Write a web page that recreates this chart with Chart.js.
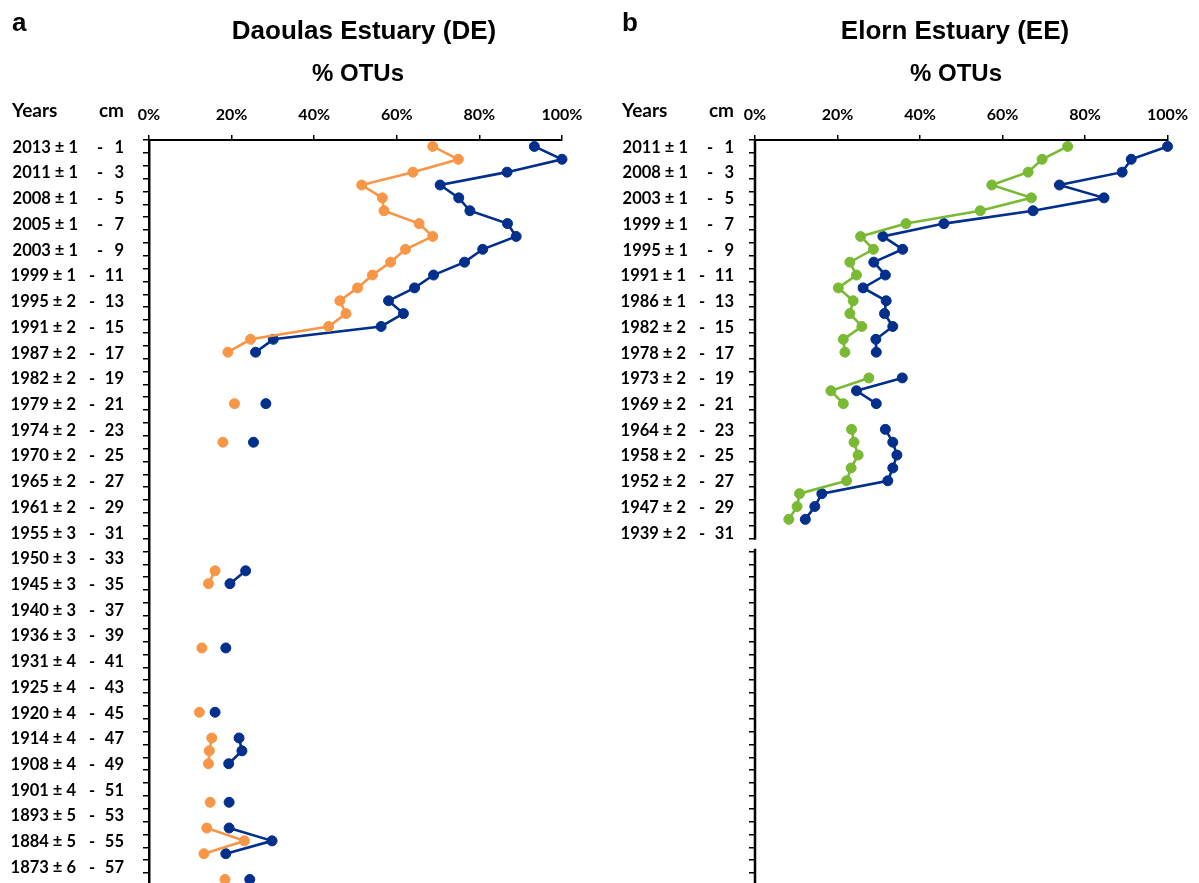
<!DOCTYPE html>
<html><head><meta charset="utf-8">
<script src="https://cdn.jsdelivr.net/npm/chart.js@4.4.1/dist/chart.umd.min.js"></script>
<style>
html,body{margin:0;padding:0;background:#fff;overflow:hidden;width:1199px;height:883px;}
#c1{position:absolute;left:0;top:0;}
#c2{position:absolute;left:600px;top:0;}
svg{position:absolute;left:0;top:0;}
.t{font-family:'Liberation Sans',Arial,sans-serif;font-weight:bold;fill:#000;}
.h{font-family:Lato,sans-serif;font-weight:bold;fill:#000;}
</style></head><body>
<canvas id="c1" width="600" height="892"></canvas>
<canvas id="c2" width="599" height="892"></canvas>
<svg width="1199" height="883">
  <text class="t" x="12" y="31" font-size="26">a</text>
  <text class="t" x="364" y="39" font-size="26" text-anchor="middle">Daoulas Estuary (DE)</text>
  <text class="t" x="358" y="81" font-size="24" text-anchor="middle">% OTUs</text>
  <text class="h" x="12" y="117" font-size="19">Years</text>
  <text class="h" x="124" y="117" font-size="19" text-anchor="end">cm</text>
  <text class="t" x="622" y="31" font-size="26">b</text>
  <text class="t" x="955" y="39" font-size="26" text-anchor="middle">Elorn Estuary (EE)</text>
  <text class="t" x="956" y="81" font-size="24" text-anchor="middle">% OTUs</text>
  <text class="h" x="622" y="117" font-size="19">Years</text>
  <text class="h" x="734" y="117" font-size="19" text-anchor="end">cm</text>
</svg>
<script>
// Depth categories (cm)
const depthsCm = [1,2,3,4,5,6,7,8,9,10,11,12,13,14,15,16,17,18,19,20,21,22,23,24,25,26,27,28,29,30,
  31,32,33,34,35,36,37,38,39,40,41,42,43,44,45,46,47,48,49,50,51,52,53,54,55,56,57,58];

// Daoulas Estuary (DE) – % OTUs per depth
const deOrange = [68.7,74.9,63.9,51.5,56.5,56.9,65.4,68.7,62.1,58.5,54.1,50.5,46.2,47.7,43.5,24.6,19.1,null,null,null,
  20.7,null,null,17.9,null,null,null,null,null,null,null,null,null,16.0,14.4,null,null,null,null,12.8,
  null,null,null,null,12.2,null,15.2,14.6,14.4,null,null,14.8,null,14.0,23.1,13.3,null,18.4];
const deBlue = [93.3,100,86.7,70.5,75.0,77.7,86.8,88.9,80.8,76.4,68.9,64.3,58.0,61.6,56.2,30.1,25.8,null,null,null,
  28.3,null,null,25.3,null,null,null,null,null,null,null,null,null,23.4,19.6,null,null,null,null,18.6,
  null,null,null,null,16.0,null,21.8,22.5,19.3,null,null,19.4,null,19.4,29.8,18.6,null,24.4];

// Elorn Estuary (EE) – % OTUs per depth
const eeGreen = [75.8,69.6,66.2,57.4,67.0,54.6,36.6,25.6,28.7,23.0,24.6,20.2,23.8,23.0,25.9,21.4,21.8,null,27.6,18.4,
  21.4,null,23.4,24.0,25.0,23.3,22.2,10.8,10.2,8.2];
const eeBlue = [100,91.2,89.0,73.8,84.6,67.4,45.8,31.0,35.8,28.8,31.6,26.2,31.8,31.4,33.4,29.3,29.4,null,35.7,24.6,
  29.4,null,31.6,33.4,34.4,33.4,32.2,16.2,14.5,12.2];

// Axis tick labels
const xTickValues = [0,20,40,60,80,100];
const deLabelCm = [1,3,5,7,9,11,13,15,17,19,21,23,25,27,29,31,33,35,37,39,41,43,45,47,49,51,53,55,57];
const deLabelYears = ['2013 ± 1','2011 ± 1','2008 ± 1','2005 ± 1','2003 ± 1','1999 ± 1','1995 ± 2','1991 ± 2','1987 ± 2',
  '1982 ± 2','1979 ± 2','1974 ± 2','1970 ± 2','1965 ± 2','1961 ± 2','1955 ± 3','1950 ± 3','1945 ± 3','1940 ± 3','1936 ± 3',
  '1931 ± 4','1925 ± 4','1920 ± 4','1914 ± 4','1908 ± 4','1901 ± 4','1893 ± 5','1884 ± 5','1873 ± 6'];
const eeLabelCm = [1,3,5,7,9,11,13,15,17,19,21,23,25,27,29,31];
const eeLabelYears = ['2011 ± 1','2008 ± 1','2003 ± 1','1999 ± 1','1995 ± 1','1991 ± 1','1986 ± 1','1982 ± 2',
  '1978 ± 2','1973 ± 2','1969 ± 2','1964 ± 2','1958 ± 2','1952 ± 2','1947 ± 2','1939 ± 2'];

const ORANGE = '#F79646', NAVY = '#002F8C', GREEN = '#7AB934';
const PX_PER_CM = 12.86;

function labelPlugin(cms, years, dx, axisBreakAt) {
  return {
    id: 'depthLabels',
    afterDraw(chart) {
      const ctx = chart.ctx, ys = chart.scales.y, ca = chart.chartArea;
      ctx.save();
      ctx.fillStyle = '#000';
      ctx.font = 'bold 16.5px Lato';
      ctx.textBaseline = 'middle';
      cms.forEach((cm, i) => {
        const y = ys.getPixelForValue(cm) + 1;
        const two = cm >= 10;
        ctx.textAlign = 'right'; ctx.fillText(years[i], dx + (two ? 76 : 78), y);
        ctx.textAlign = 'center'; ctx.fillText('-', dx + (two ? 92 : 100), y);
        ctx.textAlign = 'right'; ctx.fillText(String(cm), dx + 124, y);
      });
      if (axisBreakAt) {
        const yb = ys.getPixelForValue(axisBreakAt);
        ctx.strokeStyle = '#000'; ctx.lineWidth = 2.5;
        ctx.beginPath();
        ctx.moveTo(ca.left, ca.top - 1); ctx.lineTo(ca.left, yb + 1);
        ctx.moveTo(ca.left, yb + 10); ctx.lineTo(ca.left, ca.bottom);
        ctx.stroke();
      }
      ctx.restore();
    }
  };
}

function makeChart(id, series, chartLeft, chartRight, width, cms, years, dx, axisBreakAt) {
  const datasets = series.map(s => ({
    data: depthsCm.slice(0, s.values.length).map((d, i) => ({ x: s.values[i], y: d })),
    borderColor: s.color, backgroundColor: s.color,
    pointBackgroundColor: s.color, pointBorderColor: s.color,
    pointRadius: 5, pointBorderWidth: 1, borderWidth: 2.6,
    spanGaps: false, clip: false, tension: 0
  }));
  const chart = new Chart(document.getElementById(id), {
    type: 'line',
    data: { datasets },
    options: {
      indexAxis: 'y',
      animation: false, responsive: false, devicePixelRatio: 1,
      layout: { padding: { left: 0, right: width - chartRight, top: 100, bottom: 0 } },
      plugins: { legend: { display: false }, tooltip: { enabled: false }, title: { display: false } },
      scales: {
        x: {
          type: 'linear', position: 'top', min: 0, max: 100,
          afterBuildTicks: s => { s.ticks = xTickValues.map(v => ({ value: v })); },
          ticks: { callback: v => v + '%', font: { family: 'Lato', weight: 'bold', size: 16 }, color: '#000', padding: 11, maxRotation: 0, autoSkip: false },
          grid: { display: true, drawOnChartArea: false, drawTicks: true, tickLength: 5, color: '#000', lineWidth: 1.5 },
          border: { display: true, color: '#000', width: 2 },
          afterFit: s => { s.height = 40; }
        },
        y: {
          type: 'linear', reverse: true, min: 0.5, max: 58.28, bounds: 'data',
          afterBuildTicks: s => { const t = []; for (let v = 0.5; v <= s.max + 1e-6; v += 1) t.push({ value: v }); s.ticks = t; },
          ticks: { display: false },
          grid: { display: true, drawOnChartArea: false, drawTicks: true, tickLength: 6, color: '#000', lineWidth: 1.5 },
          border: { display: !axisBreakAt, color: '#000', width: 2.5 },
          afterFit: s => { s.width = chartLeft; }
        }
      }
    },
    plugins: [labelPlugin(cms, years, dx, axisBreakAt)]
  });
  // keep a fixed vertical scale of PX_PER_CM pixels per cm
  const ca = chart.chartArea;
  chart.options.scales.y.max = 0.5 + (ca.bottom - ca.top) / PX_PER_CM;
  chart.update();
  return chart;
}

makeChart('c1', [{ values: deOrange, color: ORANGE }, { values: deBlue, color: NAVY }], 149, 562, 600, deLabelCm, deLabelYears, 0, null);
makeChart('c2', [{ values: eeGreen, color: GREEN }, { values: eeBlue, color: NAVY }], 155, 572, 599, eeLabelCm, eeLabelYears, 10, 31.5);
</script>
</body></html>
